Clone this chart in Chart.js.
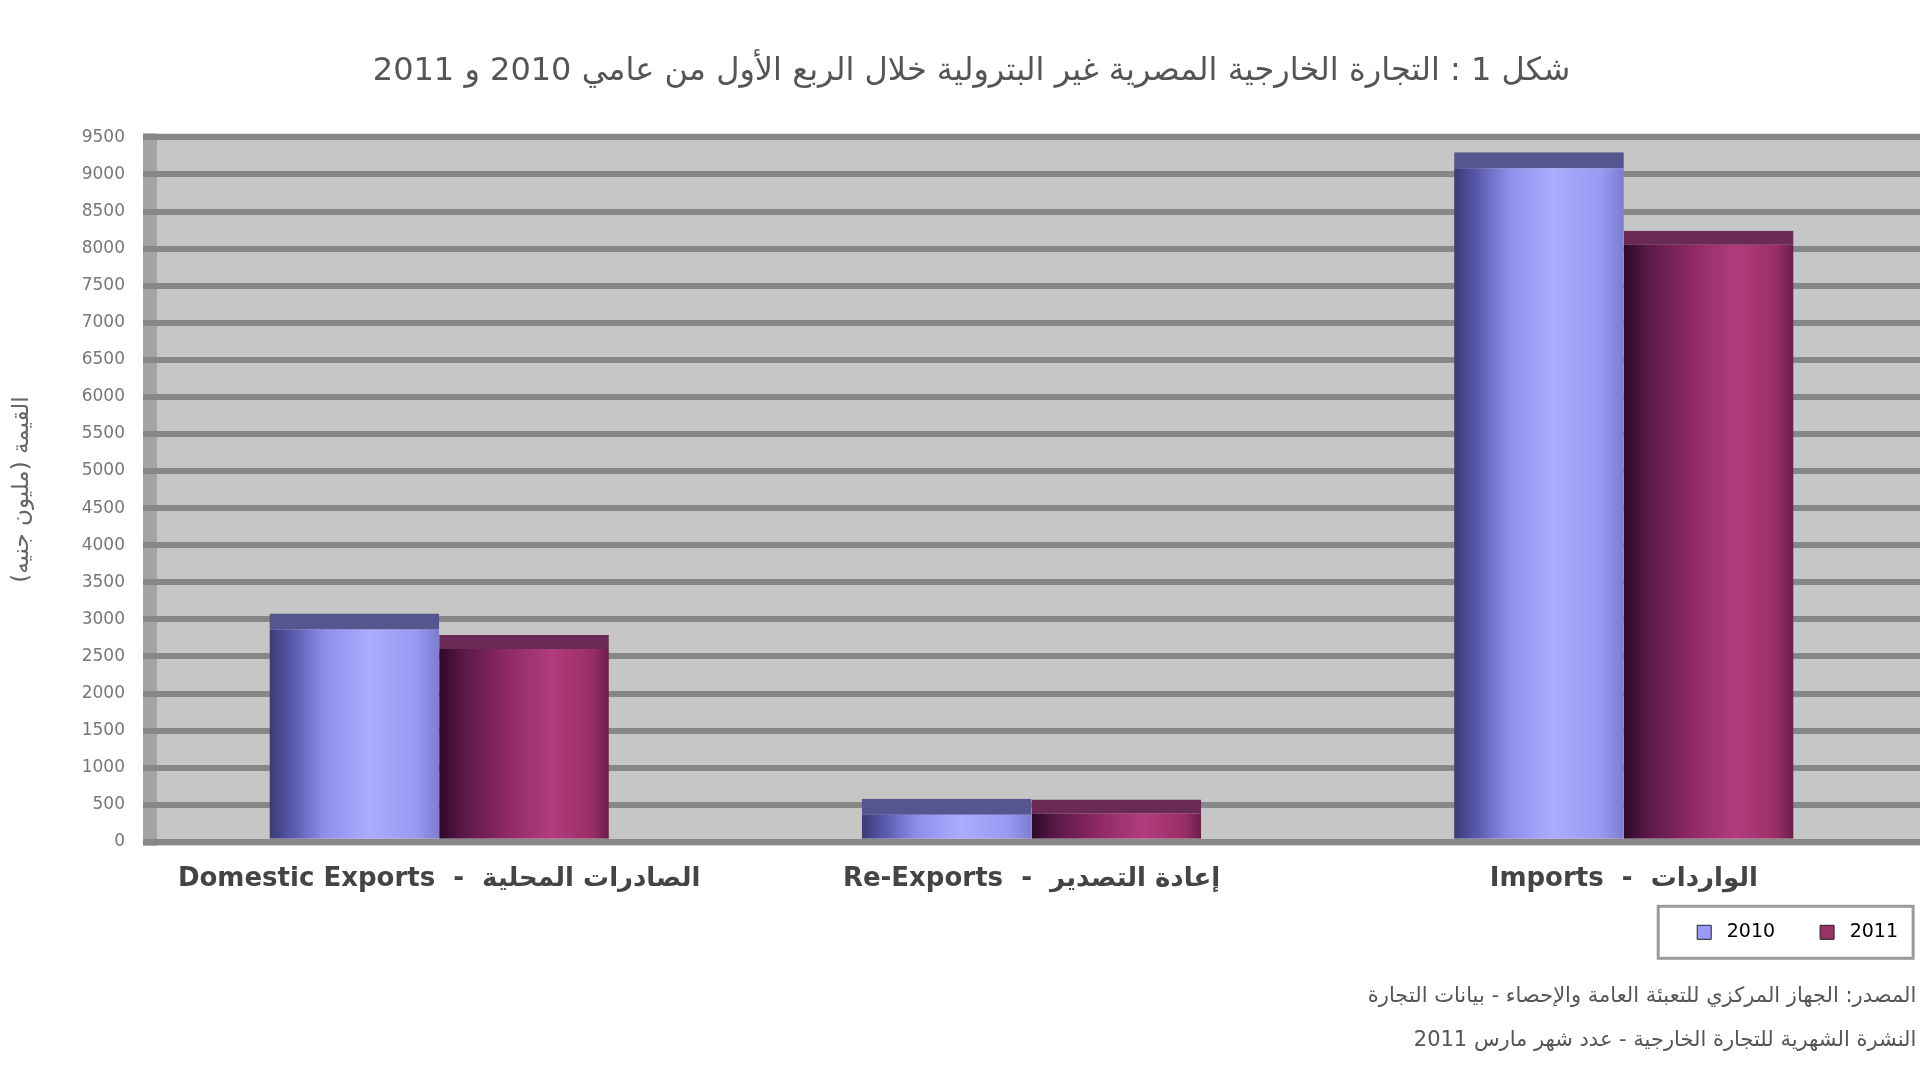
<!DOCTYPE html>
<html>
<head>
<meta charset="utf-8">
<script src="https://cdn.jsdelivr.net/npm/chart.js@4.4.0/dist/chart.umd.min.js"></script>
<style>
  html, body { margin: 0; padding: 0; background: #fff; }
  #wrap { width: 1920px; height: 1080px; }
</style>
</head>
<body>
<div id="wrap"><canvas id="chart"></canvas></div>
<script>
// data
const categories = ['Domestic Exports  -  الصادرات المحلية', 'Re-Exports  -  إعادة التصدير', 'Imports  -  الواردات'];
const seriesLabels = ['2010', '2011'];
const values2010 = [3080, 580, 9300];
const values2011 = [2790, 570, 8240];
const yMin = 0;
const yMax = 9500;
const yStep = 500;

const titleText = '\u202Bشكل 1 : التجارة الخارجية المصرية غير البترولية خلال الربع الأول من عامي 2010 و 2011\u202C';
const yTitleText = '\u202Bالقيمة (مليون جنيه)\u202C';
const sourceLines = [
  '\u202Bالمصدر: الجهاز المركزي للتعبئة العامة والإحصاء - بيانات التجارة\u202C    ',
  '\u202Bالنشرة الشهرية للتجارة الخارجية - عدد شهر مارس 2011\u202C    ',
];

const CAT_PCT = 0.573;
const FONT = '"DejaVu Sans", "Liberation Sans", sans-serif';

const blueStops = [[0, '#3a3a78'], [0.14, '#5a5aac'], [0.32, '#8e8eea'], [0.58, '#ababff'], [0.86, '#9a9af2'], [1, '#7c7cd2']];
const plumStops = [[0, '#2e0828'], [0.14, '#5a1848'], [0.4, '#8e2a64'], [0.66, '#b23c7c'], [0.9, '#9a2e68'], [1, '#6a1e4c']];
const legendColors = ['#9999ff', '#993366'];

function barFill(stops) {
  return (ctx) => {
    const chart = ctx.chart;
    const x = chart.scales && chart.scales.x;
    if (!chart.chartArea || !x || ctx.dataIndex === undefined) return stops[3][1];
    const group = (x.width / categories.length) * CAT_PCT;
    const w = group / 2;
    const left = x.getPixelForValue(ctx.dataIndex) - group / 2 + ctx.datasetIndex * w;
    const g = chart.ctx.createLinearGradient(left, 0, left + w, 0);
    stops.forEach(([o, c]) => g.addColorStop(o, c));
    return g;
  };
}

const wallPlugin = {
  id: 'wall',
  beforeDraw(chart) {
    const { ctx, chartArea: a } = chart;
    ctx.save();
    ctx.fillStyle = '#c6c6c6';
    ctx.fillRect(a.left, a.top - 4, a.right - a.left, a.bottom - a.top + 8);
    ctx.fillStyle = '#a4a4a4';
    ctx.fillRect(a.left, a.top - 4, 14, a.bottom - a.top + 8);
    ctx.restore();
  },
  afterDraw(chart) {
    // frame round the legend, as in the reference
    const boxes = chart.legend && chart.legend.legendHitBoxes;
    if (!boxes || !boxes.length) return;
    const first = boxes[0];
    const last = boxes[boxes.length - 1];
    const l = first.left - 39;
    const r = last.left + 93;
    const mid = first.top + first.height / 2;
    const ctx = chart.ctx;
    ctx.save();
    ctx.strokeStyle = '#9a9a9a';
    ctx.lineWidth = 3;
    ctx.strokeRect(l, mid - 26, r - l, 52);
    ctx.restore();
  },
};

new Chart(document.getElementById('chart'), {
  type: 'bar',
  data: {
    labels: categories,
    datasets: [
      {
        label: seriesLabels[0],
        data: values2010,
        backgroundColor: barFill(blueStops),
        borderColor: '#55558f',
        borderWidth: { top: 16, left: 0, right: 0, bottom: 0 },
        borderSkipped: false,
      },
      {
        label: seriesLabels[1],
        data: values2011,
        backgroundColor: barFill(plumStops),
        borderColor: '#6a2a56',
        borderWidth: { top: 14, left: 0, right: 0, bottom: 0 },
        borderSkipped: false,
      },
    ],
  },
  options: {
    responsive: true,
    maintainAspectRatio: false,
    animation: false,
    datasets: { bar: { categoryPercentage: CAT_PCT, barPercentage: 1 } },
    layout: { padding: { left: 0, right: -23, top: 0, bottom: 17 } },
    plugins: {
      title: {
        display: true,
        text: titleText,
        color: '#555',
        font: { family: FONT, size: 32, weight: 'normal' },
        padding: { top: 52, bottom: 47 },
      },
      subtitle: {
        display: true,
        position: 'bottom',
        align: 'end',
        text: sourceLines,
        color: '#555',
        font: { family: FONT, size: 21, lineHeight: 2.1 },
        padding: { top: 23, bottom: 0 },
      },
      legend: {
        position: 'bottom',
        align: 'end',
        labels: {
          color: '#444',
          font: { family: FONT, size: 19 },
          boxWidth: 14,
          boxHeight: 14,
          padding: 26,
          generateLabels: (chart) => chart.data.datasets.map((ds, i) => ({
            text: ' ' + ds.label + '\u2003',
            fillStyle: legendColors[i],
            strokeStyle: '#222',
            lineWidth: 1,
            datasetIndex: i,
            hidden: false,
          })),
        },
      },
      tooltip: { enabled: false },
    },
    scales: {
      x: {
        grid: { display: false },
        border: { display: false },
        ticks: {
          color: '#444',
          font: { family: FONT, size: 26, weight: 'bold' },
          padding: 14,
          maxRotation: 0,
        },
        afterFit: (scale) => { scale.height = 55; },
      },
      y: {
        min: yMin,
        max: yMax,
        grid: { color: '#878787', lineWidth: 6, drawTicks: false },
        border: { display: false },
        ticks: {
          stepSize: yStep,
          color: '#777',
          font: { family: FONT, size: 17 },
          padding: 18,
          callback: (v) => String(v),
        },
        title: {
          display: true,
          text: yTitleText,
          color: '#666',
          font: { family: FONT, size: 23 },
          padding: { top: 8, bottom: 0 },
        },
        afterFit: (scale) => { scale.width = 143; },
      },
    },
  },
  plugins: [wallPlugin],
});
</script>
</body>
</html>
